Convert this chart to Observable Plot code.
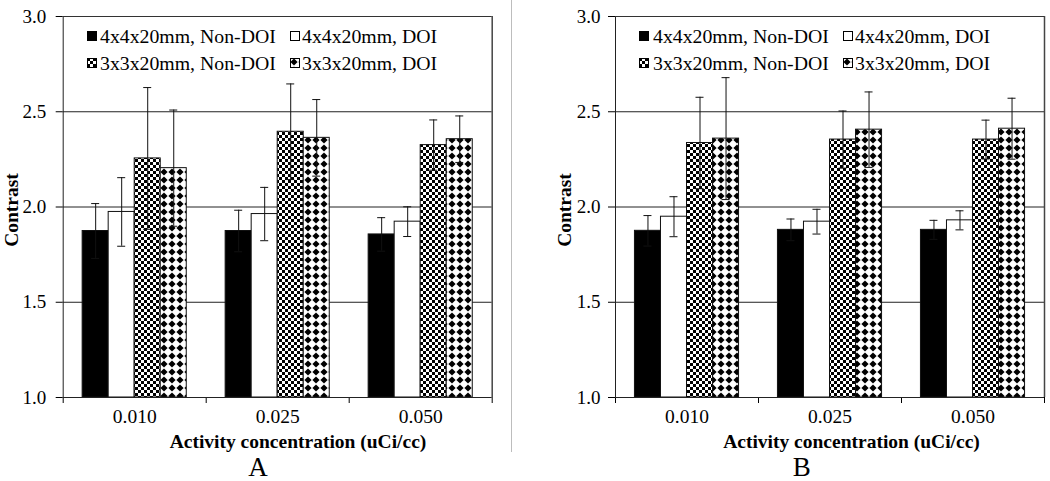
<!DOCTYPE html>
<html>
<head>
<meta charset="utf-8">
<script src="https://cdn.jsdelivr.net/npm/d3@7"></script>
<script src="https://cdn.jsdelivr.net/npm/@observablehq/plot@0.6"></script>
<style>
  html, body { margin: 0; padding: 0; background: #fff; }
  #wrap { position: relative; width: 1050px; height: 481px; overflow: hidden;
          font-family: "Liberation Serif", "Times New Roman", serif; color: #000; }
  .panel { position: absolute; top: 0; }
  .t { position: absolute; white-space: nowrap; line-height: 1; }
  .ylab { font-weight: bold; font-size: 19.5px; transform: translate(-50%, -50%) rotate(-90deg); }
  .xlab { font-weight: bold; font-size: 19.5px; transform: translate(-50%, -50%); }
  .letter { font-size: 27px; line-height: 0.8; transform: translate(-50%, -50%); }
  .leg { font-size: 19.8px; transform: translateY(-50%); }
  .sw { position: absolute; width: 10px; height: 10px; }
  .sep { position: absolute; left: 510.5px; top: 0; width: 1.5px; height: 452px; background: #bdbdbd; }
</style>
</head>
<body>
<svg width="0" height="0" style="position:absolute">
  <defs>
    <pattern id="checker" patternUnits="userSpaceOnUse" width="6" height="6">
      <rect width="6" height="6" fill="#fff"/>
      <rect width="3" height="3" fill="#000"/>
      <rect x="3" y="3" width="3" height="3" fill="#000"/>
    </pattern>
    <pattern id="diamond" patternUnits="userSpaceOnUse" width="8" height="8">
      <rect width="8" height="8" fill="#fff"/>
      <path d="M4,0.4L7.6,4L4,7.6L0.4,4Z" fill="#000"/>
    </pattern>
  </defs>
</svg>
<div id="wrap"><div class="sep"></div></div>
<script>
// ---------- data ----------
const concentrations = ["0.010", "0.025", "0.050"];
const seriesNames = ["4x4x20mm, Non-DOI", "4x4x20mm, DOI", "3x3x20mm, Non-DOI", "3x3x20mm, DOI"];
const seriesFills = ["#000", "#fff", "url(#checker)", "url(#diamond)"];
const yTicks = [1.0, 1.5, 2.0, 2.5, 3.0];
const panelLetters = ["A", "B"];
const yTitle = "Contrast";
const xTitle = "Activity concentration (uCi/cc)";

// Panel A
const aNonDOI4x4 = [1.874, 1.874, 1.856];
const aNonDOI4x4Err = [0.144, 0.109, 0.088];
const aDOI4x4 = [1.974, 1.963, 1.923];
const aDOI4x4Err = [0.18, 0.14, 0.078];
const aNonDOI3x3 = [2.255, 2.395, 2.325];
const aNonDOI3x3Err = [0.372, 0.251, 0.132];
const aDOI3x3 = [2.204, 2.363, 2.356];
const aDOI3x3Err = [0.305, 0.201, 0.122];

// Panel B
const bNonDOI4x4 = [1.875, 1.880, 1.880];
const bNonDOI4x4Err = [0.08, 0.057, 0.05];
const bDOI4x4 = [1.949, 1.923, 1.930];
const bDOI4x4Err = [0.105, 0.065, 0.05];
const bNonDOI3x3 = [2.336, 2.354, 2.354];
const bNonDOI3x3Err = [0.24, 0.15, 0.102];
const bDOI3x3 = [2.359, 2.406, 2.411];
const bDOI3x3Err = [0.32, 0.198, 0.16];

function buildRows(vals, errs) {
  const rows = [];
  concentrations.forEach((c, g) => {
    seriesNames.forEach((s, k) => {
      rows.push({conc: c, g, series: s, k, value: vals[k][g], err: errs[k][g]});
    });
  });
  return rows;
}
const rowsA = buildRows([aNonDOI4x4, aDOI4x4, aNonDOI3x3, aDOI3x3],
                        [aNonDOI4x4Err, aDOI4x4Err, aNonDOI3x3Err, aDOI3x3Err]);
const rowsB = buildRows([bNonDOI4x4, bDOI4x4, bNonDOI3x3, bDOI3x3],
                        [bNonDOI4x4Err, bDOI4x4Err, bNonDOI3x3Err, bDOI3x3Err]);

// ---------- layout helpers (category units) ----------
const barW = 0.182;           // bar width as share of a category
const groupPad = (1 - 4 * barW) / 2;
const capHalf = 0.028;
const x1 = d => d.g + groupPad + d.k * barW;
const x2 = d => x1(d) + barW;
const xm = d => x1(d) + barW / 2;

function makePanel(rows, cfg) {
  return Plot.plot({
    width: cfg.width,
    height: 481,
    marginLeft: cfg.ml,
    marginRight: cfg.mr,
    marginTop: 16,
    marginBottom: 84,
    x: {domain: [0, 3], ticks: [0, 1, 2, 3], tickFormat: () => "", tickSize: 6, label: null},
    y: {domain: [1, 3], ticks: yTicks, tickFormat: d3.format(".1f"), tickSize: 7, tickPadding: cfg.tp, label: null},
    color: {type: "ordinal", domain: seriesNames, range: seriesFills},
    style: {fontFamily: "'Liberation Serif', 'Times New Roman', serif", fontSize: "19px", color: "#000", background: "transparent", overflow: "visible"},
    marks: [
      Plot.ruleY([1.5, 2.0, 2.5], {stroke: "#222", strokeWidth: 1}),
      Plot.rectY(rows, {x1, x2, y1: 1, y2: "value", fill: "series", stroke: "#111", strokeWidth: 1}),
      Plot.ruleX(rows, {x: xm, y1: d => d.value - d.err, y2: d => d.value + d.err, stroke: "#111", strokeWidth: 1}),
      Plot.ruleY(rows, {x1: d => xm(d) - capHalf, x2: d => xm(d) + capHalf, y: d => d.value + d.err, stroke: "#111", strokeWidth: 1}),
      Plot.ruleY(rows, {x1: d => xm(d) - capHalf, x2: d => xm(d) + capHalf, y: d => d.value - d.err, stroke: "#111", strokeWidth: 1}),
      Plot.ruleX([0], {stroke: "#222", strokeWidth: 1}),
      Plot.ruleX([3], {stroke: "#444", strokeWidth: 1.5}),
      Plot.ruleY([1], {stroke: "#222", strokeWidth: 1}),
      Plot.ruleY([3], {stroke: "#333", strokeWidth: 1}),
      Plot.text(concentrations, {x: (d, i) => i + 0.5, text: d => d, frameAnchor: "bottom", dy: 25, fontSize: 19.5})
    ]
  });
}

const wrap = document.getElementById("wrap");
const panels = [
  {rows: rowsA, left: 0, width: 505, ml: 62.7, mr: 13.3, tp: 10,
   ylabX: 12, xlabX: 298, letterX: 258, sw: [87, 290], tx: [100, 302]},
  {rows: rowsB, left: 525, width: 525, ml: 90, mr: 6, tp: 8,
   ylabX: 565, xlabX: 851.5, letterX: 801.7, sw: [639, 843], tx: [653, 855]}
];

panels.forEach((p, pi) => {
  const chart = makePanel(p.rows, p);
  chart.classList.add("panel");
  chart.style.left = p.left + "px";
  wrap.appendChild(chart);

  const yl = document.createElement("div");
  yl.className = "t ylab"; yl.textContent = yTitle;
  yl.style.left = p.ylabX + "px"; yl.style.top = "210px";
  wrap.appendChild(yl);

  const xl = document.createElement("div");
  xl.className = "t xlab"; xl.textContent = xTitle;
  xl.style.left = p.xlabX + "px"; xl.style.top = "441.5px";
  wrap.appendChild(xl);

  const lt = document.createElement("div");
  lt.className = "t letter"; lt.textContent = panelLetters[pi];
  lt.style.left = p.letterX + "px"; lt.style.top = "468px";
  wrap.appendChild(lt);

  seriesNames.forEach((s, k) => {
    const col = k % 2, row = Math.floor(k / 2);
    const sw = document.createElementNS("http://www.w3.org/2000/svg", "svg");
    sw.setAttribute("class", "sw");
    sw.setAttribute("width", 10); sw.setAttribute("height", 10);
    sw.style.left = p.sw[col] + "px";
    sw.style.top = (row ? 57.5 : 31) + "px";
    const r = document.createElementNS("http://www.w3.org/2000/svg", "rect");
    r.setAttribute("x", 0.5); r.setAttribute("y", 0.5);
    r.setAttribute("width", 9); r.setAttribute("height", 9);
    r.setAttribute("fill", seriesFills[k]); r.setAttribute("stroke", "#000");
    sw.appendChild(r);
    wrap.appendChild(sw);

    const tx = document.createElement("div");
    tx.className = "t leg"; tx.textContent = s;
    tx.style.left = p.tx[col] + "px";
    tx.style.top = (row ? 64.0 : 37.3) + "px";
    wrap.appendChild(tx);
  });
});
</script>
</body>
</html>
